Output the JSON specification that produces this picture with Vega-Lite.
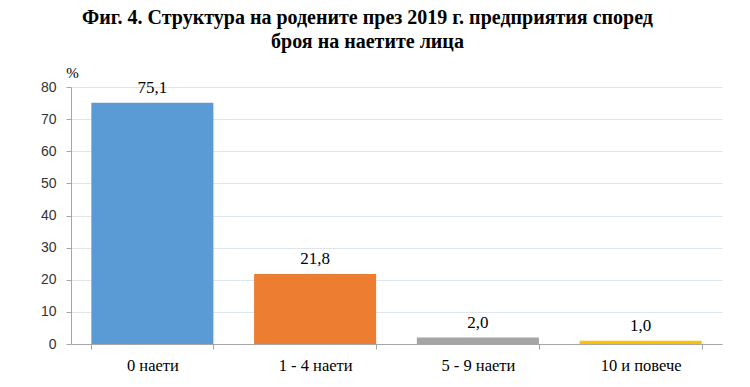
{
  "$schema": "https://vega.github.io/schema/vega-lite/v6.json",
  "autosize": "none",
  "width": 651,
  "height": 257,
  "padding": {"left": 71, "top": 87, "right": 28, "bottom": 43},
  "background": "white",
  "config": {
    "view": {"stroke": null},
    "locale": {"number": {"decimal": ",", "thousands": " ", "grouping": [3], "currency": ["", ""]}}
  },
  "title": {
    "text": ["Фиг. 4. Структура на родените през 2019 г. предприятия според", "броя на наетите лица"],
    "font": "Liberation Serif",
    "fontSize": 20,
    "fontWeight": "bold",
    "color": "#000000",
    "anchor": "middle",
    "frame": "group",
    "baseline": "alphabetic",
    "dx": -29,
    "dy": 20,
    "offset": 17,
    "lineHeight": 24
  },
  "data": {
    "values": [
      {"cat": "0 наети", "value": 75.1},
      {"cat": "1 - 4 наети", "value": 21.8},
      {"cat": "5 - 9 наети", "value": 2.0},
      {"cat": "10 и повече", "value": 1.0}
    ]
  },
  "encoding": {
    "x": {
      "field": "cat",
      "type": "nominal",
      "sort": null,
      "scale": {"paddingInner": 0.25, "paddingOuter": 0.125},
      "axis": {
        "title": null,
        "labelAngle": 0,
        "labelFont": "Liberation Serif",
        "labelFontSize": 16.5,
        "labelColor": "#000000",
        "labelPadding": 8,
        "domainColor": "#A6A6A6",
        "tickColor": "#A6A6A6",
        "tickSize": 5,
        "tickBand": "extent"
      }
    },
    "y": {
      "field": "value",
      "type": "quantitative",
      "scale": {"domain": [0, 80]},
      "axis": {
        "values": [0, 10, 20, 30, 40, 50, 60, 70, 80],
        "title": "%",
        "titleAngle": 0,
        "titleFont": "Liberation Serif",
        "titleFontSize": 15,
        "titleFontWeight": "normal",
        "titleColor": "#000000",
        "titleAlign": "center",
        "titleBaseline": "alphabetic",
        "titleX": 1,
        "titleY": -10,
        "labelFont": "Liberation Sans Narrow, Liberation Sans",
        "labelFontSize": 14,
        "labelColor": "#333333",
        "labelPadding": 10,
        "domainColor": "#A6A6A6",
        "tickColor": "#A6A6A6",
        "tickSize": 5,
        "gridColor": "#DCE6EC",
        "grid": true
      }
    }
  },
  "layer": [
    {
      "mark": {"type": "bar"},
      "encoding": {
        "color": {
          "field": "cat",
          "type": "nominal",
          "sort": null,
          "scale": {"range": ["#5B9BD5", "#ED7D31", "#A5A5A5", "#FFC000"]},
          "legend": null
        }
      }
    },
    {
      "mark": {"type": "text", "dy": -10, "baseline": "alphabetic", "font": "Liberation Serif", "fontSize": 17, "color": "#000000"},
      "encoding": {
        "text": {"field": "value", "type": "quantitative", "format": ".1f"}
      }
    }
  ]
}
